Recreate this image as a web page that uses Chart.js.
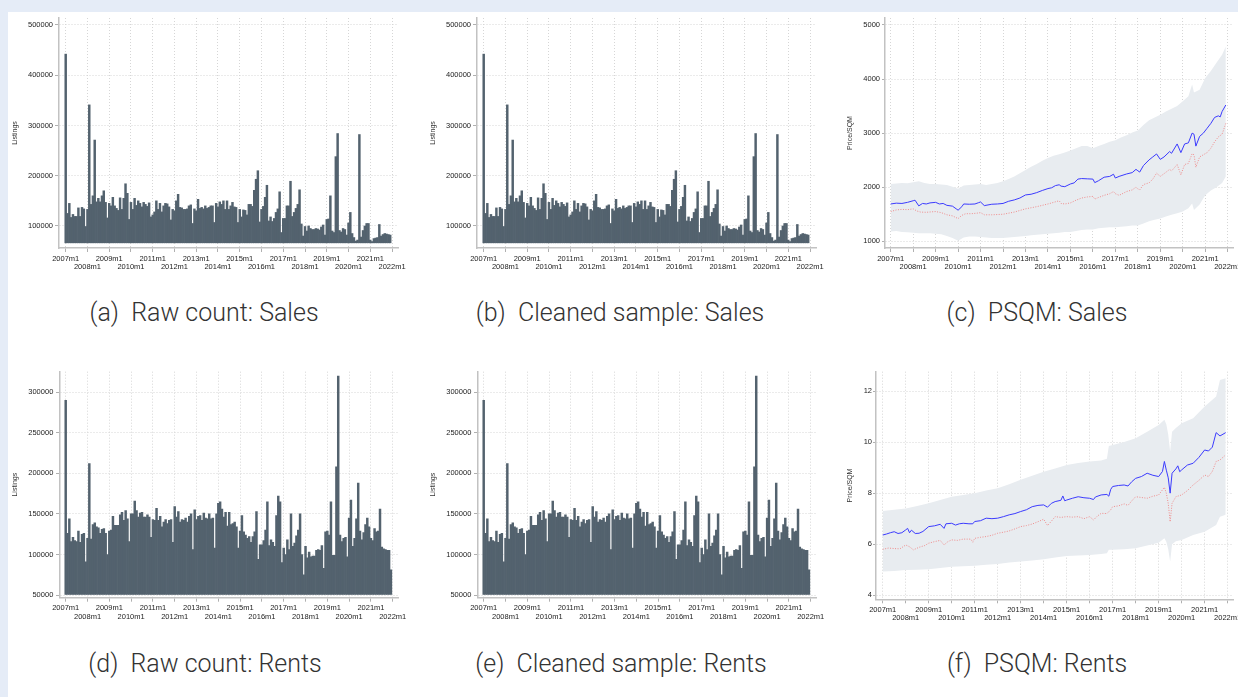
<!DOCTYPE html>
<html>
<head>
<meta charset="utf-8">
<script src="https://cdn.jsdelivr.net/npm/chart.js@4.4.0/dist/chart.umd.min.js"></script>
<style>
  body { margin: 0; width: 1238px; height: 697px; overflow: hidden; background: #e5ecf7; position: relative; }
  #sheet { position: absolute; left: 8px; top: 12px; width: 1230px; height: 685px; background: #fff; }
  canvas { position: absolute; }
  .cap { position: absolute; font-family: Roboto, "Open Sans", sans-serif; font-weight: 300; font-size: 25px;
         color: #333; white-space: pre; transform: translate(-50%, -50%); }
</style>
</head>
<body>
<div id="sheet"></div>

<canvas id="chartA" width="400" height="266" style="left:10px;top:14px"></canvas>
<canvas id="chartB" width="400" height="266" style="left:428px;top:14px"></canvas>
<canvas id="chartC" width="398" height="266" style="left:840px;top:14px"></canvas>
<canvas id="chartD" width="400" height="263" style="left:10px;top:367px"></canvas>
<canvas id="chartE" width="400" height="263" style="left:428px;top:367px"></canvas>
<canvas id="chartF" width="398" height="263" style="left:840px;top:367px"></canvas>

<div class="cap" style="left:204px;top:312px">(a)  Raw count: Sales</div>
<div class="cap" style="left:620px;top:312px">(b)  Cleaned sample: Sales</div>
<div class="cap" style="left:1037px;top:312px">(c)  PSQM: Sales</div>
<div class="cap" style="left:205px;top:663px">(d)  Raw count: Rents</div>
<div class="cap" style="left:621px;top:663px">(e)  Cleaned sample: Rents</div>
<div class="cap" style="left:1037px;top:663px">(f)  PSQM: Rents</div>

<script>
// x axis: months since 2007m1, one tick per year
const tickMonths = [0, 12, 24, 36, 48, 60, 72, 84, 96, 108, 120, 132, 144, 156, 168, 180];
const yearTickLabels = ['2007m1', '2008m1', '2009m1', '2010m1', '2011m1', '2012m1', '2013m1', '2014m1',
                        '2015m1', '2016m1', '2017m1', '2018m1', '2019m1', '2020m1', '2021m1', '2022m1'];

// y axis ticks
const salesCountTicks = [100000, 200000, 300000, 400000, 500000];
const salesCountLabels = ['100000', '200000', '300000', '400000', '500000'];
const rentsCountTicks = [50000, 100000, 150000, 200000, 250000, 300000];
const rentsCountLabels = ['50000', '100000', '150000', '200000', '250000', '300000'];
const salesPsqmTicks = [1000, 2000, 3000, 4000, 5000];
const salesPsqmLabels = ['1000', '2000', '3000', '4000', '5000'];
const rentsPsqmTicks = [4, 6, 8, 10, 12];
const rentsPsqmLabels = ['4', '6', '8', '10', '12'];

// monthly listings, 2007m1 .. 2021m12
const salesListings = [
  442000,125000,145000,117000,123000,119000,119000,136000,119000,137000,134000,99000,
  133000,341000,143000,160000,271000,148000,155000,148000,160000,170000,147000,116000,
  145000,140000,157000,140000,135000,131000,156000,133000,155000,184000,165000,113000,
  147000,133000,155000,141000,150000,145000,138000,147000,143000,139000,146000,118000,
  122000,128000,150000,133000,145000,128000,140000,145000,144000,138000,112000,133000,
  130000,150000,163000,137000,136000,133000,133000,134000,140000,142000,105000,134000,
  130000,153000,135000,137000,134000,140000,135000,137000,140000,140000,107000,145000,
  138000,148000,143000,150000,133000,150000,133000,140000,147000,138000,137000,107000,
  133000,118000,132000,131000,122000,143000,143000,139000,171000,193000,210000,108000,
  133000,139000,157000,181000,110000,118000,109000,115000,127000,134000,168000,87000,
  115000,115000,140000,140000,189000,119000,127000,135000,143000,172000,104000,80000,
  99000,90000,100000,95000,93000,93000,95000,94000,92000,98000,102000,82000,
  113000,114000,160000,90000,87000,238000,284000,91000,88000,95000,93000,82000,
  106000,127000,85000,77000,70000,72000,282000,78000,91000,100000,105000,105000,
  72000,69000,75000,76000,77000,103000,80000,83000,85000,84000,83000,82000
];
const salesCleaned = salesListings;   // (b) reads the same as (a)

const rentsListings = [
  290000,126000,144000,116000,121000,117000,116000,129000,115000,125000,126000,91000,
  120000,212000,119000,137000,139000,134000,133000,126000,131000,132000,126000,100000,
  129000,130000,147000,136000,136000,136000,149000,152000,142000,154000,144000,116000,
  150000,150000,166000,154000,146000,151000,152000,146000,146000,149000,146000,121000,
  143000,142000,157000,142000,147000,134000,140000,143000,138000,142000,143000,115000,
  159000,146000,153000,140000,143000,142000,145000,140000,147000,150000,106000,155000,
  143000,147000,148000,142000,151000,145000,144000,150000,144000,145000,108000,150000,
  163000,165000,156000,146000,152000,135000,152000,137000,138000,140000,134000,108000,
  129000,148000,128000,124000,120000,122000,115000,122000,128000,153000,94000,112000,
  112000,117000,130000,165000,111000,118000,115000,110000,148000,172000,165000,90000,
  108000,100000,118000,106000,150000,110000,114000,123000,130000,150000,100000,75000,
  110000,96000,103000,97000,98000,98000,105000,106000,105000,111000,83000,128000,
  129000,124000,165000,99000,99000,208000,320000,124000,116000,120000,121000,97000,
  145000,167000,110000,120000,144000,188000,129000,118000,127000,137000,145000,134000,
  120000,117000,132000,128000,129000,156000,109000,107000,106000,105000,105000,81000
];
const rentsCleaned = rentsListings;   // (e) reads the same as (d)

// price per square metre, sales: month index + value
const salesMeanMonths = [0,3,6,9,12,13,15,17,19,21,24,26,28,30,33,35,36,38,39,42,45,47,48,50,54,57,60,63,66,69,72,75,78,81,84,86,88,90,91,93,96,98,100,102,105,108,109,111,114,117,119,120,122,126,129,131,132,133,135,138,140,142,144,146,149,150,153,155,157,159,161,162,163,165,167,169,171,173,175,176,177,179];
const salesMeanPsqm = [1690,1705,1700,1720,1750,1760,1655,1700,1690,1710,1720,1690,1700,1665,1650,1600,1575,1640,1690,1685,1690,1715,1727,1660,1685,1690,1700,1740,1765,1800,1857,1870,1900,1940,1975,1990,2030,2045,2020,2010,2060,2080,2150,2160,2155,2150,2085,2120,2185,2200,2240,2170,2200,2245,2270,2330,2305,2280,2400,2505,2560,2615,2515,2560,2660,2627,2800,2640,2800,2820,3000,2980,2760,2940,3000,3090,3180,3290,3320,3300,3400,3520];
const salesMedianMonths = [0,3,6,9,12,14,16,19,22,24,27,30,33,36,38,40,43,46,48,50,54,57,60,63,66,69,72,75,78,81,84,87,90,91,93,96,99,102,105,108,109,111,114,117,119,120,122,126,129,131,132,133,135,138,140,142,144,146,149,150,153,155,157,159,161,162,163,165,167,169,171,173,175,177,179];
const salesMedianPsqm = [1550,1580,1590,1585,1600,1560,1540,1536,1545,1550,1530,1490,1470,1420,1480,1510,1510,1520,1530,1490,1490,1495,1500,1520,1540,1570,1600,1620,1640,1665,1690,1720,1750,1700,1690,1710,1760,1800,1820,1830,1780,1810,1850,1880,1920,1880,1850,1920,1950,2000,1970,1950,2050,2080,2150,2260,2200,2250,2330,2300,2420,2230,2420,2440,2620,2600,2370,2560,2600,2640,2720,2840,2930,2980,3180];
const salesBandMonths = [0,3,6,9,12,15,18,21,24,27,30,33,36,39,42,45,48,51,54,57,60,63,66,69,72,75,78,81,84,87,90,93,96,99,102,105,108,111,114,117,120,123,126,129,132,135,138,141,144,147,150,153,156,159,161,162,165,168,171,174,177,179];
const salesBandUpper = [2060,2070,2080,2075,2090,2110,2080,2060,2060,2050,2040,2010,1970,2030,2040,2050,2060,2040,2060,2080,2110,2150,2200,2260,2320,2380,2430,2490,2540,2580,2610,2640,2680,2720,2760,2760,2720,2760,2800,2840,2870,2920,2960,3010,3050,3150,3240,3290,3340,3400,3450,3500,3590,3680,3900,3750,3800,4020,4150,4300,4450,4600];
const salesBandLower = [1180,1190,1170,1165,1160,1150,1150,1150,1140,1130,1100,1060,1010,1070,1090,1090,1080,1070,1060,1060,1060,1070,1080,1090,1100,1110,1120,1130,1140,1150,1160,1170,1170,1190,1210,1220,1220,1240,1250,1260,1260,1270,1280,1290,1290,1330,1370,1400,1420,1460,1490,1520,1550,1610,1700,1580,1680,1850,1940,2000,2080,2200];

// price per square metre, rents
const rentsMeanMonths = [0,2,4,6,8,10,12,13,14,15,17,19,21,24,27,30,32,33,36,38,40,42,45,47,48,51,54,57,60,63,66,69,72,75,78,81,84,86,88,90,93,94,95,96,99,102,105,108,110,111,114,117,118,119,120,123,126,128,130,132,135,138,141,144,146,147,148,149,150,151,153,154,155,156,159,162,165,168,170,172,174,176,179];
const rentsMeanPsqm = [6.36,6.40,6.45,6.49,6.42,6.45,6.56,6.62,6.45,6.55,6.42,6.43,6.50,6.69,6.72,6.78,6.62,6.80,6.82,6.75,6.80,6.82,6.80,6.80,6.89,6.92,7.02,7.00,7.02,7.08,7.15,7.20,7.28,7.35,7.47,7.52,7.54,7.45,7.60,7.67,7.72,7.89,7.70,7.73,7.80,7.86,7.82,7.80,7.75,7.85,7.93,7.95,7.88,8.15,8.26,8.30,8.32,8.28,8.45,8.58,8.65,8.78,8.70,8.65,8.85,9.24,8.90,8.60,8.00,8.78,8.95,9.07,8.84,8.91,9.10,9.17,9.40,9.69,9.65,9.80,10.37,10.24,10.37];
const rentsMedianMonths = [0,3,6,9,12,14,16,19,22,24,27,30,32,34,36,39,42,46,47,48,51,54,57,60,63,66,69,72,75,78,81,84,86,88,90,93,96,99,102,105,108,110,112,114,117,119,120,123,126,128,130,132,135,138,141,144,147,148,149,150,151,153,156,159,162,165,168,170,172,174,176,179];
const rentsMedianPsqm = [5.80,5.85,5.83,5.82,5.97,5.90,5.78,5.88,5.95,6.04,6.10,6.15,5.97,6.10,6.17,6.15,6.20,6.20,6.08,6.23,6.27,6.30,6.35,6.43,6.47,6.52,6.60,6.69,6.73,6.79,6.88,6.98,6.73,6.90,7.08,7.05,7.08,7.06,7.08,7.00,7.08,6.95,7.10,7.21,7.20,7.35,7.47,7.50,7.58,7.52,7.70,7.86,7.83,7.80,7.88,7.93,8.23,8.00,7.60,6.88,7.60,7.86,7.93,8.10,8.32,8.50,8.71,8.65,8.85,9.24,9.30,9.50];
const rentsBandMonths = [0,6,12,18,24,30,36,42,48,54,60,66,72,78,84,90,96,102,108,114,117,118,120,126,132,138,144,147,148,149,150,151,153,156,162,168,174,176,179];
const rentsBandUpper = [7.30,7.35,7.40,7.50,7.60,7.73,7.86,7.93,8.00,8.10,8.19,8.35,8.52,8.68,8.84,8.97,9.10,9.18,9.24,9.28,9.35,9.85,9.89,10.00,10.15,10.40,10.67,10.87,10.70,10.30,9.63,10.40,10.55,10.74,10.93,11.39,11.78,12.43,12.50];
const rentsBandLower = [4.93,4.95,4.99,5.00,5.02,5.07,5.12,5.14,5.16,5.20,5.23,5.28,5.32,5.36,5.41,5.48,5.54,5.56,5.58,5.62,5.65,5.78,5.78,5.80,5.84,5.95,6.06,6.23,6.10,5.80,5.32,6.00,6.12,6.17,6.36,6.49,6.75,7.08,7.15];

Chart.defaults.font.family = "'Liberation Sans', Arial, sans-serif";

const gridColor = '#d6d6d6';
const axisColor = '#c2c2c2';
const labelColor = '#222';

function points(months, values) {
    return values.map((v, i) => ({x: months[i], y: v}));
}

// common options, g = geometry of one panel
function panelOptions(g) {
    return {
        responsive: false,
        animation: false,
        events: [],
        layout: { padding: { left: 0, top: g.padTop, right: g.padRight, bottom: 0 } },
        plugins: { legend: { display: false }, tooltip: { enabled: false } },
        scales: {
            x: {
                type: 'linear',
                offset: false,
                min: g.xMin,
                max: g.xMax,
                afterBuildTicks: s => { s.ticks = tickMonths.map(v => ({value: v})); },
                afterFit: s => { s.height = g.xH; s.paddingLeft = 0; s.paddingRight = 0; },
                ticks: {
                    autoSkip: false, maxRotation: 0, minRotation: 0, padding: 2.5, color: labelColor,
                    font: { size: 7.5, lineHeight: 1.1 },
                    // alternate rows like the original
                    callback: (v, i) => i % 2 === 0 ? [yearTickLabels[i], ''] : ['', yearTickLabels[i]]
                },
                grid: { offset: false, color: gridColor, lineWidth: 1, drawTicks: true, tickLength: 4,
                        tickColor: '#b0b0b0', tickWidth: 1, tickBorderDash: [] },
                border: { display: true, color: axisColor, width: 1.5, dash: [1, 2] }
            },
            y: {
                min: g.yMin,
                max: g.yMax,
                afterBuildTicks: s => { s.ticks = g.yTicks.map(v => ({value: v})); },
                afterFit: s => { s.width = g.yW; s.paddingTop = 0; s.paddingBottom = 0; },
                ticks: { padding: g.yPad, color: labelColor, font: { size: 7.5 },
                         callback: (v, i) => g.yLabels[i] },
                grid: { color: gridColor, lineWidth: 1, drawTicks: true, tickLength: g.yTick,
                        tickColor: '#b0b0b0', tickWidth: 1, tickBorderDash: [] },
                border: { display: true, color: axisColor, width: 1.5, dash: [1, 2] },
                title: { display: true, text: g.yTitle, color: '#333', font: { size: 7 },
                         padding: { top: g.titlePad, bottom: 0 } }
            }
        }
    };
}

function barPanel(id, values, g) {
    new Chart(document.getElementById(id), {
        type: 'bar',
        data: {
            datasets: [{
                data: values.map((v, i) => ({x: i, y: v})),
                backgroundColor: '#53626e',
                borderWidth: 0,
                base: g.base,
                barPercentage: 1,
                categoryPercentage: 1
            }]
        },
        options: panelOptions(g)
    });
}

function psqmPanel(id, s, g) {
    new Chart(document.getElementById(id), {
        type: 'line',
        data: {
            datasets: [
                { data: points(s.meanMonths, s.mean), borderColor: '#3b3bff', borderWidth: 1,
                  pointRadius: 0, fill: false, tension: 0 },
                { data: points(s.medianMonths, s.median), borderColor: '#f08c8c', borderWidth: 1,
                  borderDash: [1, 1.5], pointRadius: 0, fill: false, tension: 0 },
                { data: points(s.bandMonths, s.upper), borderWidth: 0, borderColor: 'rgba(0,0,0,0)',
                  pointRadius: 0, fill: '+1', backgroundColor: '#e8ecf0', tension: 0 },
                { data: points(s.bandMonths, s.lower), borderWidth: 0, borderColor: 'rgba(0,0,0,0)',
                  pointRadius: 0, fill: false, tension: 0 }
            ]
        },
        options: panelOptions(g)
    });
}

const countSalesGeom = { padTop: 4, padRight: 12, xH: 32, yW: 49, xMin: -3.7, xMax: 183.3,
    yMin: 56200, yMax: 513900, base: 66500, yTicks: salesCountTicks, yLabels: salesCountLabels,
    yPad: 2, yTick: 4, yTitle: 'Listings', titlePad: 0.5 };
const countRentsGeom = { padTop: 4.7, padRight: 12, xH: 32.3, yW: 50, xMin: -3.14, xMax: 182.9,
    yMin: 46700, yMax: 325400, base: 50000, yTicks: rentsCountTicks, yLabels: rentsCountLabels,
    yPad: 2.7, yTick: 4, yTitle: 'Listings', titlePad: 0.5 };

barPanel('chartA', salesListings, countSalesGeom);
barPanel('chartB', salesCleaned, countSalesGeom);
barPanel('chartD', rentsListings, countRentsGeom);
barPanel('chartE', rentsCleaned, countRentsGeom);

psqmPanel('chartC',
    { meanMonths: salesMeanMonths, mean: salesMeanPsqm, medianMonths: salesMedianMonths, median: salesMedianPsqm,
      bandMonths: salesBandMonths, upper: salesBandUpper, lower: salesBandLower },
    { padTop: 4, padRight: 4.5, xH: 32, yW: 45, xMin: -3.04, xMax: 183.1, yMin: 876, yMax: 5129,
      yTicks: salesPsqmTicks, yLabels: salesPsqmLabels, yPad: 2, yTick: 3, yTitle: 'Price/SQM', titlePad: 6 });

psqmPanel('chartF',
    { meanMonths: rentsMeanMonths, mean: rentsMeanPsqm, medianMonths: rentsMedianMonths, median: rentsMedianPsqm,
      bandMonths: rentsBandMonths, upper: rentsBandUpper, lower: rentsBandLower },
    { padTop: 4.7, padRight: 5, xH: 30.7, yW: 36, xMin: -3.5, xMax: 182.8, yMin: 3.843, yMax: 12.756,
      yTicks: rentsPsqmTicks, yLabels: rentsPsqmLabels, yPad: 1, yTick: 3, yTitle: 'Price/SQM', titlePad: 6 });
</script>
</body>
</html>
